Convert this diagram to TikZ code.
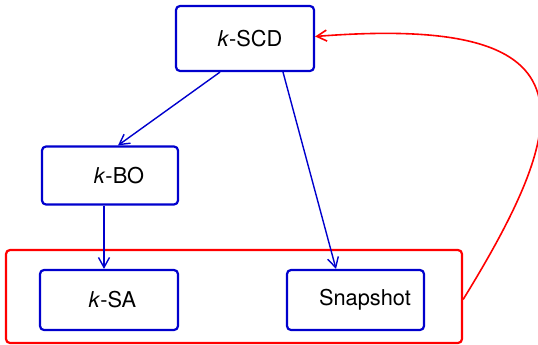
\documentclass[tikz,border=0pt]{standalone}
\usepackage{fontspec}
\setmainfont{TeX Gyre Heros}
\usetikzlibrary{arrows.meta}
\definecolor{boxblue}{RGB}{0,0,205}
\definecolor{grpred}{RGB}{255,0,0}
\tikzset{
  blockbox/.style={draw=boxblue, line width=2.2pt, rounded corners=4pt, fill=white,
    inner sep=0pt, font=\fontsize{21.8}{24}\selectfont},
  groupbox/.style={draw=grpred, line width=2.2pt, rounded corners=4pt, inner sep=0pt},
  bluearrow/.style={draw=boxblue, line width=1.4pt, -{Straight Barb[length=10pt,width=11pt,line width=1.4pt]}},
  redarrow/.style={draw=grpred, line width=1.6pt, -{Straight Barb[length=10pt,width=11pt,line width=1.6pt]}}
}
\begin{document}
\begin{tikzpicture}[x=1pt,y=-1pt]
\useasboundingbox (0,0) rectangle (538,345);
\node[groupbox, minimum width=456pt, minimum height=93pt] (grp) at (234,296.5) {};
\node[blockbox, minimum width=138pt, minimum height=65pt] (scd) at (245,38.5) {\hspace*{10pt}\textit{k}-SCD};
\node[blockbox, minimum width=136pt, minimum height=58pt] (bo) at (110,175.5) {\hspace*{18pt}\textit{k}-BO};
\node[blockbox, minimum width=138pt, minimum height=60pt] (sa) at (109,300) {\hspace*{7pt}\textit{k}-SA};
\node[blockbox, minimum width=137pt, minimum height=60pt] (snap) at (355.5,300) {\hspace*{19pt}Snapshot};
\draw[bluearrow] ([xshift=-25pt]scd.south) -- ([xshift=8pt]bo.north);
\draw[bluearrow] ([xshift=38pt]scd.south) -- ([xshift=-19.5pt]snap.north);
\draw[bluearrow] ([xshift=-6pt]bo.south) -- ([xshift=-5pt]sa.north);
\coordinate (gout) at ([yshift=-3pt]grp.east);
\draw[redarrow] (gout) .. controls (580,110) and (590,15) .. ([yshift=2pt]scd.east);
\end{tikzpicture}
\end{document}
